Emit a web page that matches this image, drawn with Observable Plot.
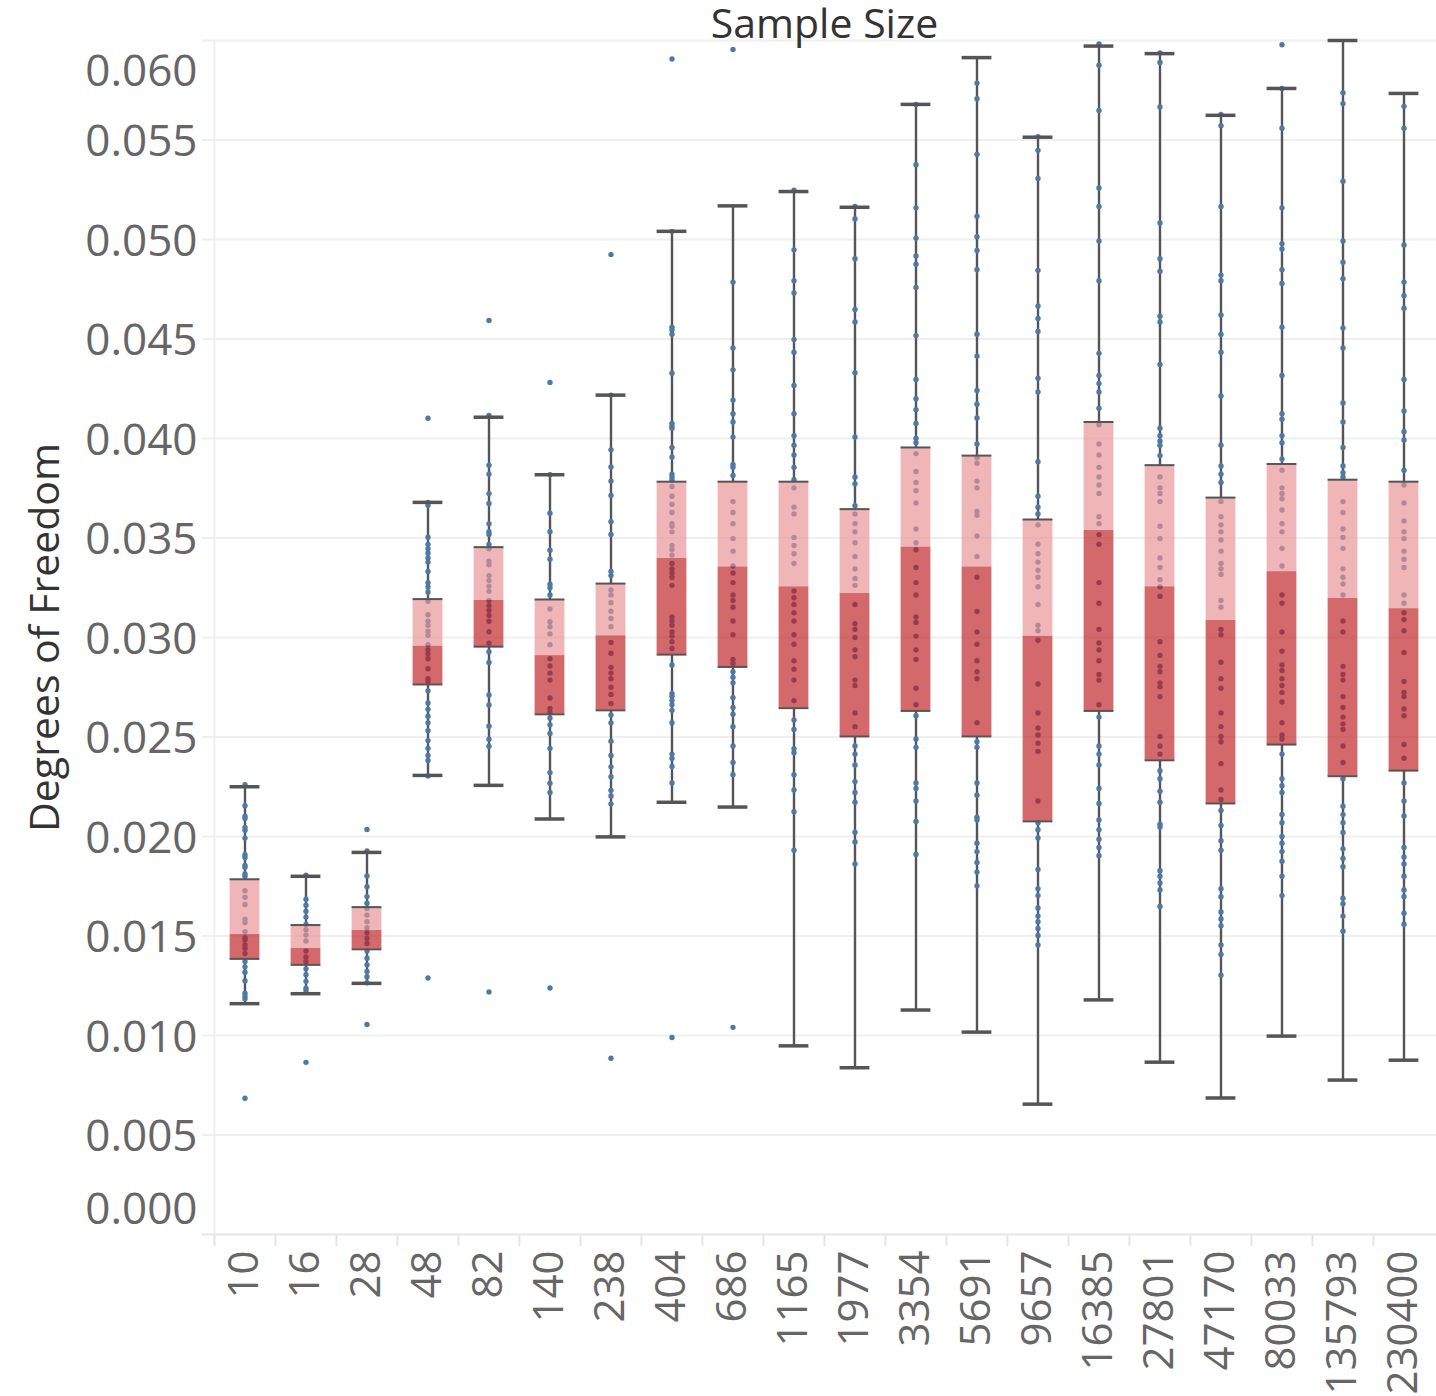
<!DOCTYPE html>
<html>
<head>
<meta charset="utf-8">
<script src="https://cdn.jsdelivr.net/npm/d3@7"></script>
<script src="https://cdn.jsdelivr.net/npm/@observablehq/plot@0.6"></script>
<style>
  html, body { margin: 0; padding: 0; background: #fff; }
  #chart svg { display: block; }
</style>
</head>
<body>
<div id="chart"></div>
<script>
// ---- Data ----
const sampleSizes = ["10","16","28","48","82","140","238","404","686","1165","1977","3354","5691","9657","16385","27801","47170","80033","135793","230400"];

const whiskerLow  = [0.0116, 0.0121, 0.01262, 0.02307, 0.02257, 0.02088, 0.01998, 0.02172, 0.02148, 0.00948, 0.00838, 0.01128, 0.01017, 0.00655, 0.01179, 0.00866, 0.00686, 0.00997, 0.00776, 0.00876];
const quartile1   = [0.01385, 0.01355, 0.01433, 0.02764, 0.02954, 0.02614, 0.02634, 0.02914, 0.02852, 0.02645, 0.02503, 0.02631, 0.02503, 0.02076, 0.02631, 0.02383, 0.02166, 0.02462, 0.02303, 0.02331];
const medians     = [0.01508, 0.01438, 0.01528, 0.02957, 0.03186, 0.02909, 0.03009, 0.03397, 0.03355, 0.03255, 0.03221, 0.03455, 0.03355, 0.03007, 0.03538, 0.03255, 0.03086, 0.03331, 0.03197, 0.03145];
const quartile3   = [0.01785, 0.01555, 0.01645, 0.03193, 0.03454, 0.03191, 0.03271, 0.03783, 0.03783, 0.03783, 0.03645, 0.03955, 0.03914, 0.03593, 0.04083, 0.03866, 0.03703, 0.03872, 0.03793, 0.03783];
const whiskerHigh = [0.0225, 0.018, 0.0192, 0.03679, 0.04107, 0.03818, 0.04218, 0.05041, 0.05169, 0.05241, 0.05162, 0.05679, 0.05914, 0.05514, 0.05972, 0.05934, 0.05624, 0.05759, 0.0600, 0.05734];

// individual observations per sample size
const dots_10 = [0.0226, 0.02155, 0.02102, 0.0209, 0.02045, 0.02032, 0.01992, 0.01908, 0.01895, 0.01855, 0.01845, 0.01812, 0.018, 0.01728, 0.01695, 0.01658, 0.01585, 0.01568, 0.01522, 0.01492, 0.0148, 0.01455, 0.01438, 0.01412, 0.01372, 0.01345, 0.01318, 0.01275, 0.01212, 0.01198, 0.01185, 0.00685];
const dots_16 = [0.01805, 0.01685, 0.01655, 0.01625, 0.01595, 0.01558, 0.01532, 0.01505, 0.01475, 0.01425, 0.01395, 0.01372, 0.01335, 0.01305, 0.01272, 0.01238, 0.01225, 0.00865];
const dots_28 = [0.02035, 0.01928, 0.01802, 0.01748, 0.01698, 0.01665, 0.01638, 0.01605, 0.01572, 0.01542, 0.01515, 0.01488, 0.01462, 0.01425, 0.01388, 0.01355, 0.01322, 0.01295, 0.01265, 0.01055];
const dots_48 = [0.04102, 0.03679, 0.03664, 0.03504, 0.03468, 0.03446, 0.03425, 0.034, 0.03379, 0.03332, 0.03275, 0.03254, 0.03229, 0.03182, 0.03114, 0.03082, 0.03061, 0.03032, 0.03011, 0.02964, 0.02939, 0.02918, 0.02893, 0.02843, 0.02793, 0.02779, 0.02732, 0.02671, 0.02639, 0.02604, 0.02571, 0.02532, 0.02482, 0.02443, 0.02407, 0.02382, 0.02304, 0.01289];
const dots_82 = [0.04593, 0.04116, 0.03866, 0.03821, 0.03723, 0.03673, 0.03571, 0.03532, 0.03518, 0.03468, 0.03446, 0.03384, 0.03366, 0.03311, 0.03286, 0.03257, 0.03232, 0.03186, 0.03161, 0.03136, 0.03111, 0.03082, 0.03029, 0.02971, 0.02929, 0.02875, 0.02711, 0.02661, 0.02554, 0.02489, 0.02454, 0.01219];
const dots_140 = [0.04282, 0.03818, 0.03625, 0.03532, 0.03439, 0.03393, 0.03268, 0.0325, 0.03214, 0.03143, 0.03079, 0.03054, 0.03018, 0.02964, 0.02893, 0.02857, 0.02821, 0.02786, 0.02696, 0.02643, 0.02625, 0.02596, 0.02561, 0.02518, 0.02443, 0.02321, 0.02268, 0.02221, 0.01239];
const dots_238 = [0.04924, 0.04218, 0.03943, 0.03857, 0.03786, 0.03714, 0.03582, 0.03518, 0.03332, 0.03311, 0.03239, 0.03214, 0.03175, 0.03132, 0.03096, 0.03054, 0.02975, 0.02921, 0.0285, 0.02821, 0.02793, 0.0275, 0.02714, 0.02668, 0.02611, 0.02571, 0.02479, 0.02407, 0.0235, 0.023, 0.02232, 0.02204, 0.02164, 0.00886];
const dots_404 = [0.05907, 0.05041, 0.04559, 0.04545, 0.04524, 0.04328, 0.04076, 0.04062, 0.04052, 0.03955, 0.03907, 0.03821, 0.03807, 0.03793, 0.03759, 0.0371, 0.03669, 0.03628, 0.03572, 0.03559, 0.03531, 0.03462, 0.03441, 0.03414, 0.03372, 0.03345, 0.03324, 0.03303, 0.03262, 0.03103, 0.03083, 0.03062, 0.03028, 0.03007, 0.02979, 0.02945, 0.02862, 0.02717, 0.02703, 0.02683, 0.02662, 0.02634, 0.02572, 0.02414, 0.02393, 0.02352, 0.02269, 0.0099];
const dots_686 = [0.05955, 0.04786, 0.04455, 0.04345, 0.04193, 0.04124, 0.04083, 0.04007, 0.03869, 0.03855, 0.03814, 0.03683, 0.03628, 0.03572, 0.03497, 0.03434, 0.03359, 0.03324, 0.03276, 0.03214, 0.03186, 0.03152, 0.03083, 0.03014, 0.0289, 0.02869, 0.02828, 0.028, 0.02772, 0.02697, 0.02648, 0.02614, 0.02552, 0.02455, 0.02372, 0.0231, 0.01041];
const dots_1165 = [0.05248, 0.04948, 0.04793, 0.04731, 0.04497, 0.04434, 0.04266, 0.04124, 0.04014, 0.03966, 0.03917, 0.03855, 0.03793, 0.03752, 0.03655, 0.03621, 0.03503, 0.03462, 0.03421, 0.03372, 0.03234, 0.032, 0.03166, 0.03124, 0.03083, 0.03014, 0.02966, 0.02883, 0.02841, 0.02786, 0.02683, 0.02586, 0.02538, 0.02441, 0.02421, 0.0231, 0.02234, 0.02124, 0.01931];
const dots_1977 = [0.05166, 0.05103, 0.04903, 0.04648, 0.04586, 0.04331, 0.04007, 0.03807, 0.03772, 0.03662, 0.03621, 0.03572, 0.03531, 0.03476, 0.03407, 0.03345, 0.03297, 0.03262, 0.03166, 0.03069, 0.03041, 0.03, 0.02938, 0.02903, 0.02786, 0.02759, 0.02621, 0.02552, 0.02455, 0.02414, 0.02359, 0.02276, 0.02221, 0.02172, 0.02021, 0.01972, 0.01862];
const dots_3354 = [0.05679, 0.05376, 0.05159, 0.05007, 0.04917, 0.04876, 0.04759, 0.04517, 0.04297, 0.042, 0.04145, 0.04076, 0.04, 0.03979, 0.03924, 0.03834, 0.03779, 0.03738, 0.03676, 0.03545, 0.03476, 0.03441, 0.03352, 0.03276, 0.03214, 0.03103, 0.03076, 0.03007, 0.02938, 0.0289, 0.02745, 0.02662, 0.02607, 0.0249, 0.02448, 0.02269, 0.02241, 0.02179, 0.02076, 0.0191];
const dots_5691 = [0.05786, 0.05707, 0.05428, 0.05117, 0.05014, 0.04945, 0.04848, 0.04524, 0.04414, 0.04241, 0.04172, 0.04103, 0.03972, 0.03903, 0.03876, 0.03786, 0.03752, 0.03634, 0.03614, 0.0351, 0.03407, 0.03303, 0.03131, 0.03028, 0.02966, 0.02883, 0.02828, 0.02793, 0.02572, 0.02476, 0.02448, 0.02269, 0.02207, 0.02097, 0.02083, 0.01966, 0.01924, 0.01869, 0.01821, 0.01752];
const dots_9657 = [0.05517, 0.05448, 0.05307, 0.04845, 0.04666, 0.04603, 0.04538, 0.04303, 0.04234, 0.03883, 0.0371, 0.03655, 0.03621, 0.03566, 0.03469, 0.03421, 0.03379, 0.03338, 0.03303, 0.03255, 0.03166, 0.03062, 0.03034, 0.02986, 0.02766, 0.02621, 0.02545, 0.0251, 0.02469, 0.02428, 0.02179, 0.02069, 0.02034, 0.01993, 0.01834, 0.01738, 0.01703, 0.01641, 0.016, 0.01572, 0.01538, 0.01503, 0.01455];
const dots_16385 = [0.05983, 0.05876, 0.05648, 0.05259, 0.05166, 0.04993, 0.04793, 0.04428, 0.04317, 0.04276, 0.04234, 0.04152, 0.04069, 0.03972, 0.03917, 0.03855, 0.03807, 0.03766, 0.03724, 0.03607, 0.03572, 0.03517, 0.03469, 0.03276, 0.03172, 0.03041, 0.02972, 0.02938, 0.02883, 0.02814, 0.02786, 0.02662, 0.026, 0.02455, 0.02414, 0.02359, 0.02241, 0.02166, 0.02083, 0.02034, 0.01986, 0.01945, 0.01903];
const dots_27801 = [0.05938, 0.0589, 0.05666, 0.05083, 0.04903, 0.04841, 0.04614, 0.04586, 0.04372, 0.04052, 0.04014, 0.03986, 0.03966, 0.03914, 0.03807, 0.03752, 0.03724, 0.03683, 0.03559, 0.03497, 0.034, 0.03352, 0.0329, 0.03255, 0.03207, 0.02979, 0.0291, 0.02855, 0.02828, 0.02772, 0.02752, 0.02703, 0.02503, 0.02455, 0.02414, 0.02331, 0.0229, 0.02228, 0.02172, 0.02062, 0.02048, 0.01828, 0.018, 0.01766, 0.01731, 0.01648];
const dots_47170 = [0.05628, 0.05572, 0.05166, 0.04821, 0.04793, 0.04621, 0.04524, 0.04434, 0.04214, 0.03966, 0.03862, 0.03821, 0.03779, 0.03683, 0.03607, 0.03566, 0.03531, 0.0349, 0.03434, 0.03372, 0.03345, 0.03317, 0.03186, 0.03152, 0.03041, 0.03014, 0.02876, 0.02793, 0.02745, 0.02621, 0.02552, 0.02503, 0.02476, 0.02366, 0.02234, 0.02186, 0.02131, 0.02055, 0.01979, 0.01931, 0.01738, 0.01697, 0.01621, 0.01586, 0.01552, 0.01455, 0.01407, 0.01303];
const dots_80033 = [0.05979, 0.05759, 0.05559, 0.05159, 0.04979, 0.04952, 0.04848, 0.04779, 0.04559, 0.04317, 0.04124, 0.04097, 0.04014, 0.03979, 0.03897, 0.03841, 0.03752, 0.03724, 0.03697, 0.03641, 0.03572, 0.03531, 0.03448, 0.03359, 0.03214, 0.03172, 0.03028, 0.02931, 0.02862, 0.02834, 0.02793, 0.02759, 0.02724, 0.02676, 0.02572, 0.0251, 0.0249, 0.02414, 0.0229, 0.02255, 0.02221, 0.02111, 0.02069, 0.02, 0.01966, 0.01924, 0.01876, 0.018, 0.01703];
const dots_135793 = [0.05738, 0.05683, 0.05293, 0.04993, 0.04886, 0.04803, 0.04555, 0.04455, 0.04179, 0.04083, 0.03955, 0.03862, 0.03828, 0.03807, 0.03683, 0.03628, 0.03545, 0.03503, 0.03448, 0.03345, 0.03303, 0.03269, 0.03214, 0.03083, 0.03028, 0.02855, 0.02814, 0.02786, 0.02703, 0.02648, 0.026, 0.02566, 0.02538, 0.02455, 0.02372, 0.0229, 0.02152, 0.0211, 0.02069, 0.0202, 0.01938, 0.0189, 0.01848, 0.0169, 0.01662, 0.016, 0.01524];
const dots_230400 = [0.05669, 0.05559, 0.04972, 0.04786, 0.04717, 0.04655, 0.04297, 0.04138, 0.04034, 0.03993, 0.03841, 0.03766, 0.03676, 0.03586, 0.03531, 0.03497, 0.03434, 0.03393, 0.03352, 0.03214, 0.03172, 0.03124, 0.0309, 0.03034, 0.02924, 0.02779, 0.02724, 0.02703, 0.02641, 0.02607, 0.02462, 0.02393, 0.02269, 0.02179, 0.02103, 0.01945, 0.01897, 0.01862, 0.018, 0.01731, 0.01697, 0.01614, 0.01559];

const dotSeries = [dots_10, dots_16, dots_28, dots_48, dots_82, dots_140, dots_238, dots_404, dots_686, dots_1165, dots_1977, dots_3354, dots_5691, dots_9657, dots_16385, dots_27801, dots_47170, dots_80033, dots_135793, dots_230400];

const yGridTicks = [0.005, 0.010, 0.015, 0.020, 0.025, 0.030, 0.035, 0.040, 0.045, 0.050, 0.055, 0.060];
const yLabelTicks = [0.005, 0.010, 0.015, 0.020, 0.025, 0.030, 0.035, 0.040, 0.045, 0.050, 0.055];
const chartTitle = "Sample Size";
const yTitle = "Degrees of Freedom";

// ---- Build tables for the library ----
const boxes = sampleSizes.map((s, i) => ({s, lo: whiskerLow[i], q1: quartile1[i], med: medians[i], q3: quartile3[i], hi: whiskerHigh[i]}));
const points = sampleSizes.flatMap((s, i) => dotSeries[i].map(v => ({s, v})));

const fmt = d3.format(".3f");
const boxInset = 15.6;
const axisGray = "#e6e6e6";
const inkGray = "#555555";
const labelGray = "#666666";
const font = "'Open Sans', sans-serif";

const chart = Plot.plot({
  width: 1436,
  height: 1396,
  marginTop: 40,
  marginBottom: 162,
  marginLeft: 212,
  marginRight: 0,
  style: {fontFamily: font, background: "white", overflow: "visible"},
  x: {type: "band", domain: sampleSizes, padding: 0, axis: null},
  y: {domain: [0, 0.06], axis: null},
  marks: [
    // gridlines
    Plot.ruleY(yGridTicks, {stroke: "#efefef", strokeWidth: 2, insetLeft: -10}),
    // bottom axis line
    Plot.ruleY([0], {stroke: axisGray, strokeWidth: 2, insetLeft: -10}),
    // left axis line
    Plot.ruleX([sampleSizes[0]], {dx: -30.6, y1: -0.0006, y2: 0.06, stroke: "#efefef", strokeWidth: 2}),
    // bottom tick marks at band edges
    Plot.ruleX(sampleSizes, {x: d => d, dx: -30.6, y1: 0, y2: -0.0006, stroke: axisGray, strokeWidth: 2}),
    // whiskers
    Plot.ruleX(boxes, {x: "s", y1: "lo", y2: "q1", stroke: inkGray, strokeWidth: 2.4}),
    Plot.ruleX(boxes, {x: "s", y1: "q3", y2: "hi", stroke: inkGray, strokeWidth: 2.4}),
    // observations
    Plot.dot(points, {x: "s", y: "v", r: 2.7, fill: "#4e79a7", stroke: "none"}),
    // boxes
    Plot.barY(boxes, {x: "s", y1: "q1", y2: "med", fill: "#be1c20", fillOpacity: 0.66, insetLeft: boxInset, insetRight: boxInset}),
    Plot.barY(boxes, {x: "s", y1: "med", y2: "q3", fill: "#e89092", fillOpacity: 0.66, insetLeft: boxInset, insetRight: boxInset}),
    // box edges
    Plot.tickY(boxes, {x: "s", y: "q1", stroke: inkGray, strokeWidth: 2, insetLeft: boxInset, insetRight: boxInset}),
    Plot.tickY(boxes, {x: "s", y: "q3", stroke: inkGray, strokeWidth: 2, insetLeft: boxInset, insetRight: boxInset}),
    // whisker caps
    Plot.tickY(boxes, {x: "s", y: "lo", stroke: inkGray, strokeWidth: 3.5, insetLeft: boxInset, insetRight: boxInset}),
    Plot.tickY(boxes, {x: "s", y: "hi", stroke: inkGray, strokeWidth: 3.5, insetLeft: boxInset, insetRight: boxInset}),
    // y tick labels
    Plot.text(yLabelTicks, {y: d => d, frameAnchor: "left", textAnchor: "end", lineAnchor: "middle", dx: -15, dy: 2, text: d => fmt(d), fontSize: 44, fill: labelGray}),
    Plot.text([0], {y: d => d, frameAnchor: "left", textAnchor: "end", lineAnchor: "middle", dx: -15, dy: -25, text: d => fmt(d), fontSize: 44, fill: labelGray}),
    Plot.text([0.06], {y: d => d, frameAnchor: "left", textAnchor: "end", lineAnchor: "middle", dx: -15, dy: 31, text: d => fmt(d), fontSize: 44, fill: labelGray}),
    // x tick labels
    Plot.text(sampleSizes, {x: d => d, y: () => -0.0008, rotate: -90, textAnchor: "end", lineAnchor: "middle", text: d => d, fontSize: 42, fill: labelGray}),
    // titles
    Plot.text([chartTitle], {frameAnchor: "top", dy: -16, textAnchor: "middle", lineAnchor: "middle", text: d => d, fontSize: 41, fill: "#333"}),
    Plot.text([yTitle], {frameAnchor: "left", dx: -167, rotate: -90, textAnchor: "middle", lineAnchor: "middle", text: d => d, fontSize: 41, fill: "#333"})
  ]
});

document.getElementById("chart").appendChild(chart);
</script>
</body>
</html>
